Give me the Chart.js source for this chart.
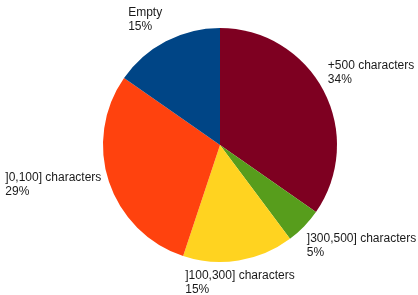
<!DOCTYPE html>
<html>
<head>
<meta charset="utf-8">
<script src="https://cdn.jsdelivr.net/npm/chart.js@4/dist/chart.umd.min.js"></script>
<style>
  html, body { margin: 0; padding: 0; background: #fff; }
  #wrap { position: relative; width: 418px; height: 295px; }
</style>
</head>
<body>
<div id="wrap"><canvas id="pie" width="418" height="295"></canvas></div>
<script>
  // Données (pourcentages affichés)
  const categories = ['+500 characters', ']300,500] characters', ']100,300] characters', ']0,100] characters', 'Empty'];
  const shares = [34, 5, 15, 29, 15];
  const colors = ['#7E0021', '#579D1C', '#FFD320', '#FF420E', '#004586'];

  // Étiquettes à l'extérieur, façon LibreOffice
  const outsideLabels = {
    id: 'outsideLabels',
    afterDatasetsDraw(chart) {
      const ctx = chart.ctx;
      const meta = chart.getDatasetMeta(0);
      ctx.save();
      ctx.font = '12px "Liberation Sans", Arial, sans-serif';
      ctx.fillStyle = '#1a1a1a';
      const lh = 14;
      meta.data.forEach((arc, i) => {
        const p = arc.getProps(['x', 'y', 'startAngle', 'endAngle', 'outerRadius'], true);
        const mid = (p.startAngle + p.endAngle) / 2;
        const c = Math.cos(mid), s = Math.sin(mid);
        const r = p.outerRadius + 8;
        const ax = p.x + c * r - (c > 0.3 ? 3 : 0);
        const ay = p.y + s * r;
        const lines = [categories[i], shares[i] + '%'];
        const w = Math.max(...lines.map(t => ctx.measureText(t).width));
        let x0;
        if (c > 0.3) x0 = ax;
        else if (c < -0.3) x0 = ax - w;
        else x0 = ax - w / 2;
        let y0;
        if (s < -0.4) y0 = ay - lh * 2;
        else if (s > 0.4) y0 = ay;
        else y0 = ay - lh;
        ctx.textAlign = 'left';
        ctx.textBaseline = 'top';
        lines.forEach((t, k) => ctx.fillText(t, x0, y0 + k * lh + 1));
      });
      ctx.restore();
    }
  };

  new Chart(document.getElementById('pie'), {
    type: 'pie',
    data: {
      labels: categories,
      datasets: [{
        data: shares,
        backgroundColor: colors,
        borderWidth: 0
      }]
    },
    options: {
      responsive: false,
      animation: false,
      layout: { padding: { top: 28, bottom: 33, left: 103, right: 81 } },
      plugins: {
        legend: { display: false },
        tooltip: { enabled: false }
      }
    },
    plugins: [outsideLabels]
  });
</script>
</body>
</html>
